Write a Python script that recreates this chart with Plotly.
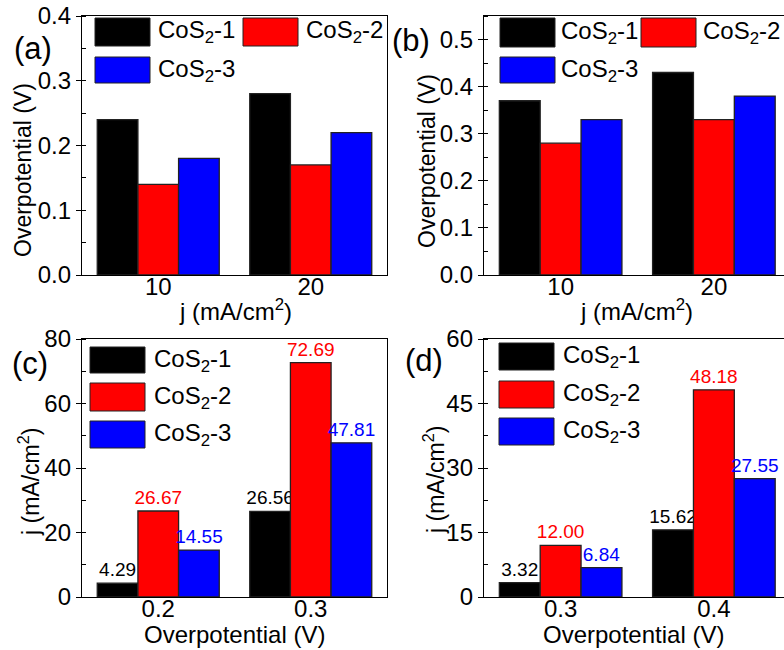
import plotly.graph_objects as go

W, H = 784, 650
FONT = "Arial, Liberation Sans, sans-serif"

series_names = ["CoS<sub>2</sub>-1", "CoS<sub>2</sub>-2", "CoS<sub>2</sub>-3"]
series_colors = ["#000000", "#ff0000", "#0000ff"]

# Panel (a)
a_categories = ["10", "20"]
a_cos2_1 = [0.24, 0.28]
a_cos2_2 = [0.14, 0.17]
a_cos2_3 = [0.18, 0.22]

# Panel (b)
b_categories = ["10", "20"]
b_cos2_1 = [0.37, 0.43]
b_cos2_2 = [0.28, 0.33]
b_cos2_3 = [0.33, 0.38]

# Panel (c)
c_categories = ["0.2", "0.3"]
c_cos2_1 = [4.29, 26.56]
c_cos2_2 = [26.67, 72.69]
c_cos2_3 = [14.55, 47.81]

# Panel (d)
d_categories = ["0.3", "0.4"]
d_cos2_1 = [3.32, 15.62]
d_cos2_2 = [12.00, 48.18]
d_cos2_3 = [6.84, 27.55]


def X(px):
    return px / W


def Y(py):
    return 1 - py / H


fig = go.Figure()

panels = [
    ("", a_categories, [a_cos2_1, a_cos2_2, a_cos2_3], False),
    ("2", b_categories, [b_cos2_1, b_cos2_2, b_cos2_3], False),
    ("3", c_categories, [c_cos2_1, c_cos2_2, c_cos2_3], True),
    ("4", d_categories, [d_cos2_1, d_cos2_2, d_cos2_3], True),
]

for suffix, cats, vals, labels in panels:
    for name, color, v in zip(series_names, series_colors, vals):
        kw = {}
        if labels:
            kw = dict(
                text=[f"{x:.2f}" for x in v],
                textposition="outside",
                constraintext="none",
                textfont=dict(color=color, size=19, family=FONT),
                cliponaxis=False,
            )
        fig.add_trace(go.Bar(
            x=cats, y=v, name=name,
            marker=dict(color=color, line=dict(color="#222222", width=1.3)),
            xaxis="x" + suffix, yaxis="y" + suffix, showlegend=False,
            **kw,
        ))

tickfont = dict(size=24, family=FONT, color="#000000")


def xaxis(domain, rng, mirror, anchor):
    return dict(
        domain=domain, range=rng, anchor=anchor, type="category",
        showline=True, linecolor="#000000", linewidth=1.3, mirror=mirror,
        ticks="", ticklen=0, ticklabelstandoff=-10,
        showgrid=False, zeroline=False, automargin=False,
        tickfont=tickfont,
    )


def yaxis(domain, rng, dtick, minor, fmt, mirror, anchor):
    return dict(
        domain=domain, range=rng, anchor=anchor,
        showline=True, linecolor="#000000", linewidth=1.3, mirror=mirror,
        ticks="outside", ticklen=5, tickwidth=1.3, tickcolor="#000000",
        dtick=dtick, tick0=0, tickformat=fmt, automargin=False,
        minor=dict(dtick=minor, ticks="inside", ticklen=4, tickwidth=1.3, tickcolor="#000000", showgrid=False),
        showgrid=False, zeroline=False,
        tickfont=tickfont,
    )


xl = [X(82), X(387)]
xr = [X(484), 1.0]
yt = [Y(275), Y(16)]
yb = [Y(597), Y(339)]
rng_full = [-0.5, 1.5]
rng_cut = [-0.5, 1 + (784 - 714) / 153]

fig.update_layout(
    width=W, height=H,
    margin=dict(l=0, r=0, t=0, b=0, autoexpand=False),
    paper_bgcolor="white", plot_bgcolor="white",
    barmode="group", bargap=0.2, bargroupgap=0.0,
    font=dict(family=FONT, color="#000000"),
    xaxis=xaxis(xl, rng_full, True, "y"),
    yaxis=yaxis(yt, [0, 0.4], 0.1, 0.05, ".1f", True, "x"),
    xaxis2=xaxis(xr, rng_cut, True, "y2"),
    yaxis2=yaxis(yt, [0, 0.55], 0.1, 0.05, ".1f", False, "x2"),
    xaxis3=xaxis(xl, rng_full, True, "y3"),
    yaxis3=yaxis(yb, [0, 80], 20, 10, "d", True, "x3"),
    xaxis4=xaxis(xr, rng_cut, True, "y4"),
    yaxis4=yaxis(yb, [0, 60], 15, 7.5, "d", False, "x4"),
)

# Axis titles
x_titles = [("j (mA/cm<sup>2</sup>)", 235, 310), ("j (mA/cm<sup>2</sup>)", 636, 310),
            ("Overpotential (V)", 234, 634), ("Overpotential (V)", 633, 634)]
for txt, px, py in x_titles:
    fig.add_annotation(x=X(px), y=Y(py), xref="paper", yref="paper", text=txt,
                       showarrow=False, font=dict(size=24, family=FONT, color="#000000"),
                       xanchor="center", yanchor="middle")
y_titles = [("Overpotential (V)", 23, 170), ("Overpotential (V)", 427, 161),
            ("j (mA/cm<sup>2</sup>)", 29, 482), ("j (mA/cm<sup>2</sup>)", 434, 480)]
for txt, px, py in y_titles:
    fig.add_annotation(x=X(px), y=Y(py), xref="paper", yref="paper", text=txt,
                       showarrow=False, textangle=-90,
                       font=dict(size=23, family=FONT, color="#000000"),
                       xanchor="center", yanchor="middle")

# Panel letters
for txt, px, py in [("(a)", 33, 48), ("(b)", 411, 41), ("(c)", 30, 363), ("(d)", 424, 360)]:
    fig.add_annotation(x=X(px), y=Y(py), xref="paper", yref="paper", text=txt,
                       showarrow=False, font=dict(size=31, family=FONT, color="#000000"),
                       xanchor="center", yanchor="middle")

# Legends (swatch left, top, bottom, text x)
legend_items = [
    # panel a
    [(95, 18, 46, 157), (243, 18, 46, 305), (95, 57, 83, 157)],
    # panel b
    [(500, 18, 47, 560), (641, 18, 47, 702), (500, 57, 83, 560)],
    # panel c
    [(90, 347, 373, 153), (90, 383, 411, 153), (90, 421, 448, 153)],
    # panel d
    [(499, 343, 370, 562), (499, 381, 408, 562), (499, 418, 445, 562)],
]
for items in legend_items:
    for (lx, ty, by, tx), name, color in zip(items, series_names, series_colors):
        fig.add_shape(type="rect", xref="paper", yref="paper",
                      x0=X(lx), x1=X(lx + 55), y0=Y(by), y1=Y(ty),
                      fillcolor=color, line=dict(color="#222222", width=1))
        fig.add_annotation(x=X(tx), y=Y((ty + by) / 2), xref="paper", yref="paper",
                           text=name, showarrow=False, xanchor="left", yanchor="middle",
                           borderpad=0,
                           font=dict(size=24, family=FONT, color="#000000"))

fig.write_html("out.html", config={"displayModeBar": False},
               post_script="document.body.style.margin='0';document.body.style.overflow='hidden';")
